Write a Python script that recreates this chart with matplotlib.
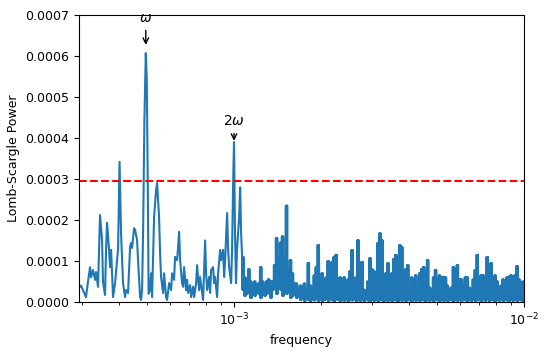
import numpy as np
import matplotlib.pyplot as plt
from matplotlib.ticker import FormatStrFormatter

# Lomb-Scargle periodogram
# low-frequency part where single peaks are resolved (freq and power in units of 1e-4)
f_low = [2.921, 2.968, 3.015, 3.087, 3.137, 3.188, 3.214, 3.265, 3.318, 3.344,
         3.397, 3.451, 3.507, 3.534, 3.591, 3.620, 3.649, 3.708, 3.738, 3.767,
         3.827, 3.889, 3.951, 3.983, 4.030, 4.078, 4.143, 4.210, 4.243, 4.311,
         4.381, 4.415, 4.451, 4.522, 4.558, 4.631, 4.668, 4.743, 4.781, 4.819,
         4.858, 4.908, 4.963, 5.003, 5.043, 5.075, 5.136, 5.177, 5.218, 5.301,
         5.385, 5.429, 5.516, 5.560, 5.604, 5.694, 5.739, 5.831, 5.878, 5.972,
         6.068, 6.116, 6.214, 6.263, 6.364, 6.415, 6.466, 6.518, 6.622, 6.674,
         6.728, 6.835, 6.890, 6.945, 7.057, 7.113, 7.227, 7.285, 7.401, 7.460,
         7.580, 7.640, 7.763, 7.824, 7.950, 8.013, 8.077, 8.207, 8.272, 8.338,
         8.471, 8.539, 8.607, 8.745, 8.815, 8.956, 9.027, 9.171, 9.245, 9.318,
         9.468, 9.543, 9.620, 9.774, 9.852, 9.931, 10.0, 10.08, 10.16, 10.24,
         10.415, 10.50, 10.58]
p_low = [0.35, 0.4, 0.29, 0.12, 0.5, 0.85, 0.6, 0.78, 0.54, 0.73,
         0.37, 2.12, 1.5, 0.49, 0.17, 1.27, 1.93, 1.27, 0.85, 1.27,
         0.12, 0.46, 1.02, 1.3, 3.42, 1.68, 0.46, 0.12, 0.29, 0.22,
         1.34, 1.44, 1.32, 1.8, 1.76, 1.51, 1.02, 0.12, 0.05, 0.3,
         1.7, 4.4, 6.07, 5.4, 2.8, 0.2, 0.3, 0.7, 0.12, 2.07,
         2.73, 2.9, 2.07, 1.19, 0.61, 0.22, 0.7, 0.12, 0.05, 0.46,
         0.29, 0.7, 0.54, 1.1, 1.02, 1.34, 1.71, 1.02, 0.46, 0.37,
         0.85, 0.29, 0.54, 0.22, 0.41, 0.12, 0.37, 0.12, 0.46, 0.9,
         0.29, 0.61, 0.22, 0.05, 1.5, 0.7, 0.29, 0.61, 0.22, 0.78,
         0.85, 0.46, 0.61, 0.12, 0.7, 1.27, 1.02, 1.27, 0.61, 1.02,
         2.17, 1.27, 0.85, 0.46, 1.34, 2.9, 3.9, 1.68, 0.46, 1.27,
         2.07, 2.8, 1.68]

# dense part from 1.0666e-3 to 1e-2: local maxima and minima (units of 1e-4)
f_dense_start = 1.0666e-3
f_dense_end = 1.0e-2
p_dense_max = [1.1, 0.6, 0.5, 0.8, 0.5, 0.4, 0.5, 0.4, 0.45, 0.85,
               0.5, 0.4, 0.5, 0.55, 0.5, 0.5, 0.9, 1.56, 1.1, 1.45,
               1.6, 1.1, 2.35, 0.8, 1.02, 0.7, 0.45, 0.45, 0.3, 0.4,
               0.35, 0.45, 0.3, 0.95, 0.4, 0.35, 0.65, 0.85, 1.39, 0.6,
               0.7, 0.55, 0.6, 1.0, 0.7, 0.98, 1.1, 1.15, 0.5, 0.6,
               0.5, 0.6, 0.4, 0.55, 0.75, 1.27, 0.5, 0.6, 1.51, 0.7,
               0.98, 0.3, 0.25, 0.5, 1.07, 0.8, 0.75, 0.6, 1.44, 1.68,
               1.51, 0.6, 0.7, 0.95, 0.4, 0.7, 1.05, 1.15, 0.6, 1.39,
               1.34, 0.5, 0.8, 0.9, 0.35, 0.6, 0.55, 0.65, 0.4, 0.7,
               0.8, 0.85, 0.75, 1.02, 0.35, 0.3, 0.6, 0.78, 0.55, 0.65,
               0.6, 0.6, 0.6, 0.4, 0.3, 0.35, 0.85, 0.8, 0.9, 0.55,
               0.55, 0.4, 0.6, 0.6, 0.35, 0.3, 0.55, 0.78, 1.15, 0.6,
               0.65, 0.65, 0.5, 1.1, 0.55, 0.95, 0.55, 0.65, 0.5, 0.35,
               0.4, 0.55, 0.5, 0.6, 0.62, 0.65, 0.6, 0.65, 0.88, 0.55,
               0.45, 0.5]
p_dense_min = [0.3, 0.15, 0.2, 0.3, 0.1, 0.2, 0.15, 0.25, 0.2, 0.1,
               0.3, 0.15, 0.2, 0.25, 0.1, 0.3, 0.35, 0.2, 0.4, 0.3,
               0.15, 0.5, 0.2, 0.3, 0.1, 0.15, 0.2, 0.1, 0.15, 0.05,
               0.08, 0.03, 0.1, 0.05, 0.02, 0.08, 0.04, 0.1, 0.03, 0.06,
               0.02, 0.05, 0.08, 0.03, 0.1, 0.04, 0.02, 0.07, 0.05, 0.02,
               0.06, 0.03, 0.09, 0.02, 0.05, 0.04, 0.08, 0.02, 0.06, 0.03,
               0.05, 0.02, 0.07, 0.04, 0.02, 0.06, 0.03, 0.08, 0.02, 0.05,
               0.04, 0.02, 0.06, 0.03, 0.07, 0.02, 0.05, 0.04, 0.02, 0.06,
               0.03, 0.08, 0.02, 0.05, 0.04, 0.02, 0.06, 0.03, 0.07, 0.02,
               0.05, 0.04, 0.02, 0.06, 0.03, 0.08, 0.02, 0.05, 0.04, 0.02,
               0.06, 0.03, 0.07, 0.02, 0.05, 0.04, 0.02, 0.06, 0.03, 0.08,
               0.02, 0.05, 0.04, 0.02, 0.06, 0.03, 0.07, 0.02, 0.05, 0.04,
               0.02, 0.06, 0.03, 0.08, 0.02, 0.05, 0.04, 0.02, 0.06, 0.03,
               0.07, 0.02, 0.05, 0.04, 0.02, 0.06, 0.03, 0.08, 0.02, 0.05,
               0.04, 0.02]
# the real grid oscillates several times per pixel there, so each max/min pair is drawn 3 times
dense_repeat = 3

threshold = 0.000296
f_omega, p_omega_tip, p_omega_text = 4.963e-4, 6.27e-4, 6.93e-4
f_2omega, p_2omega_tip, p_2omega_text = 1.0e-3, 3.93e-4, 4.42e-4

# put everything together
n = min(len(p_dense_max), len(p_dense_min))
pairs = np.column_stack([p_dense_max[:n], p_dense_min[:n]])
p_dense = np.tile(pairs, (1, dense_repeat)).ravel()
f_dense = np.geomspace(f_dense_start, f_dense_end, len(p_dense))
freq = np.concatenate([np.array(f_low) * 1e-4, f_dense])
power = np.concatenate([np.array(p_low), p_dense]) * 1e-4

plt.rcParams['font.size'] = 9
fig = plt.figure(figsize=(5.5, 3.54), dpi=100)
ax = fig.add_axes([0.1436, 0.1469, 0.8091, 0.8107])

ax.plot(freq, power, color='#1f77b4', linewidth=1.5)
ax.axhline(threshold, color='red', linestyle='--', linewidth=1.5)

ax.annotate(r'$\omega$', xy=(f_omega, p_omega_tip), xytext=(f_omega, p_omega_text),
            ha='center', va='center', fontsize=10,
            arrowprops=dict(arrowstyle='->', color='black', shrinkB=0))
ax.annotate(r'$2\omega$', xy=(f_2omega, p_2omega_tip), xytext=(f_2omega, p_2omega_text),
            ha='center', va='center', fontsize=10,
            arrowprops=dict(arrowstyle='->', color='black', shrinkB=0))

ax.set_xscale('log')
ax.set_xlim(2.92e-4, 1e-2)
ax.set_ylim(0, 0.0007)
ax.set_yticks(np.arange(0, 0.00071, 0.0001))
ax.yaxis.set_major_formatter(FormatStrFormatter('%.4f'))
ax.set_xlabel('frequency')
ax.set_ylabel('Lomb-Scargle Power')

fig.savefig('out.png', dpi=100)
